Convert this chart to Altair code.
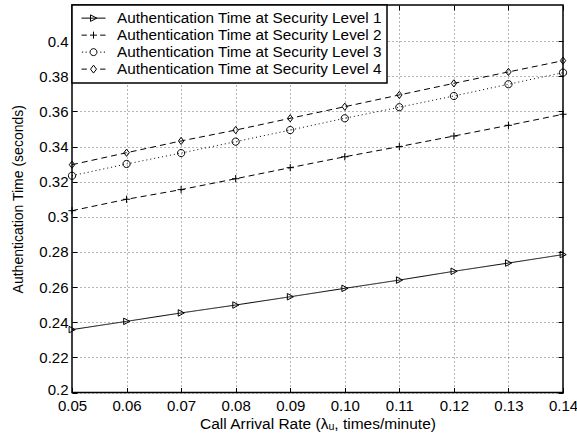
import altair as alt
import pandas as pd

rates = [0.05, 0.06, 0.07, 0.08, 0.09, 0.10, 0.11, 0.12, 0.13, 0.14]
level1 = [0.2358, 0.2405, 0.2453, 0.2498, 0.2545, 0.2593, 0.2640, 0.2690, 0.2737, 0.2785]
level2 = [0.3035, 0.3100, 0.3155, 0.3217, 0.3280, 0.3342, 0.3400, 0.3460, 0.3521, 0.3584]
level3 = [0.3234, 0.3301, 0.3363, 0.3428, 0.3494, 0.3561, 0.3624, 0.3688, 0.3755, 0.3821]
level4 = [0.3297, 0.3365, 0.3432, 0.3494, 0.3561, 0.3627, 0.3694, 0.3760, 0.3825, 0.3889]
series = [
    "Authentication Time at Security Level 1",
    "Authentication Time at Security Level 2",
    "Authentication Time at Security Level 3",
    "Authentication Time at Security Level 4",
]
y_ticks = [0.2, 0.22, 0.24, 0.26, 0.28, 0.3, 0.32, 0.34, 0.36, 0.38, 0.4]

rows = []
for name, vals in zip(series, [level1, level2, level3, level4]):
    for r, v in zip(rates, vals):
        rows.append({"rate": r, "time": v, "series": name})
df = pd.DataFrame(rows)

FONT = "Liberation Sans"
W, H = 491, 387.5

x_scale = alt.Scale(domain=[0.05, 0.14], nice=False, zero=False)
y_scale = alt.Scale(domain=[0.2, 0.4206], nice=False, zero=False)

# main axes with labels and grid
x_main = alt.X(
    "rate:Q", scale=x_scale,
    axis=alt.Axis(
        values=rates, format=".2f", title="Call Arrival Rate (λᵤ, times/minute)",
        labelPadding=6, titlePadding=3, labelFlush=False, labelOverlap=False,
        titleFontSize=15.5, grid=True, ticks=False,
    ),
)
y_main = alt.Y(
    "time:Q", scale=y_scale,
    axis=alt.Axis(
        values=y_ticks, format="~g", title="Authentication Time (seconds)",
        labelPadding=4, titlePadding=13, labelFlush=False, labelOverlap=False,
        titleFontSize=14, grid=True, ticks=False,
        labelOffset={"condition": {"test": "datum.value < 0.21", "value": -3}, "value": 0},
    ),
)

def tick_axis(vals, orient, offset):
    return alt.Axis(
        values=vals, orient=orient, offset=offset, labels=False, title=None,
        grid=False, domain=False, ticks=True, tickSize=5, tickColor="black", tickWidth=1,
    )

# inward tick marks on the four sides
x_b = alt.X("rate:Q", scale=x_scale, axis=tick_axis(rates, "top", -H))
y_b = alt.Y("time:Q", scale=y_scale, axis=tick_axis(y_ticks, "right", -W))
x_c = alt.X("rate:Q", scale=x_scale, axis=tick_axis(rates, "bottom", -H))
y_c = alt.Y("time:Q", scale=y_scale, axis=tick_axis(y_ticks, "left", -W))

dash_range = [[1, 0], [6, 4], [1, 3], [6, 4]]
marker_paths = [
    "M -0.8 -0.9 L 0.9 0 L -0.8 0.9 Z",
    "M -1 0 L 1 0 M 0 -1 L 0 1",
    "M 1 0 A 1 1 0 1 1 -1 0 A 1 1 0 1 1 1 0 Z",
    "M 0 -1 L 0.75 0 L 0 1 L -0.75 0 Z",
]
legend_paths = [
    "M -1 0 L 1 0 M -0.25 -0.27 L 0.28 0 L -0.25 0.27 Z",
    "M -1 0 L -0.55 0 M 0.55 0 L 1 0 M -0.29 0 L 0.29 0 M 0 -0.29 L 0 0.29",
    "M -0.96 0 L -0.86 0 M -0.66 0 L -0.56 0 M 0.56 0 L 0.66 0 M 0.86 0 L 0.96 0 "
    "M 0.29 0 A 0.29 0.29 0 1 1 -0.29 0 A 0.29 0.29 0 1 1 0.29 0 Z",
    "M -1 0 L -0.55 0 M 0.55 0 L 1 0 M 0 -0.33 L 0.25 0 L 0 0.33 L -0.25 0 Z",
]

lines = alt.Chart(df).mark_line(color="black", strokeWidth=1).encode(
    x=x_main, y=y_main,
    strokeDash=alt.StrokeDash("series:N", scale=alt.Scale(domain=series, range=dash_range), legend=None),
    detail="series:N",
)

points = alt.Chart(df).mark_point(filled=False, color="black", strokeWidth=1, size=52, opacity=1).encode(
    x=x_b, y=y_b,
    shape=alt.Shape("series:N", scale=alt.Scale(domain=series, range=marker_paths), legend=None),
)

legend_layer = alt.Chart(df).mark_point(filled=False, color="black", strokeWidth=1, size=576, opacity=0).encode(
    x=x_c, y=y_c,
    shape=alt.Shape(
        "series:N",
        scale=alt.Scale(domain=series, range=legend_paths),
        legend=alt.Legend(
            title=None, orient="top-left", offset=0, padding=5,
            clipHeight=16.25, rowPadding=0,
            symbolSize=576, symbolOpacity=1, symbolStrokeColor="black",
            symbolStrokeWidth=1, symbolFillColor="transparent", symbolOffset=4,
            labelOffset=11, labelLimit=500, labelFont=FONT, labelFontSize=15.3,
            labelColor="black", strokeColor="black", fillColor="white",
        ),
    ),
)

chart = (
    alt.layer(lines, points, legend_layer)
    .resolve_scale(shape="independent")
    .resolve_axis(x="independent", y="independent")
    .properties(
        width=W, height=H,
        autosize=alt.AutoSizeParams(type="none"),
        padding={"left": 72, "top": 5, "right": 14, "bottom": 47.5},
        background="white",
    )
    .configure_view(stroke="black", strokeWidth=1.5)
    .configure_legend(strokeWidth=1.5)
    .configure_axis(
        labelFont=FONT, labelFontSize=15, labelColor="black",
        titleFont=FONT, titleFontSize=15, titleFontWeight="normal", titleColor="black",
        gridColor="#444444", gridDash=[1, 3], gridWidth=0.8,
        domain=False,
    )
)

chart.save("out.html", embed_options={"renderer": "svg", "actions": False})
